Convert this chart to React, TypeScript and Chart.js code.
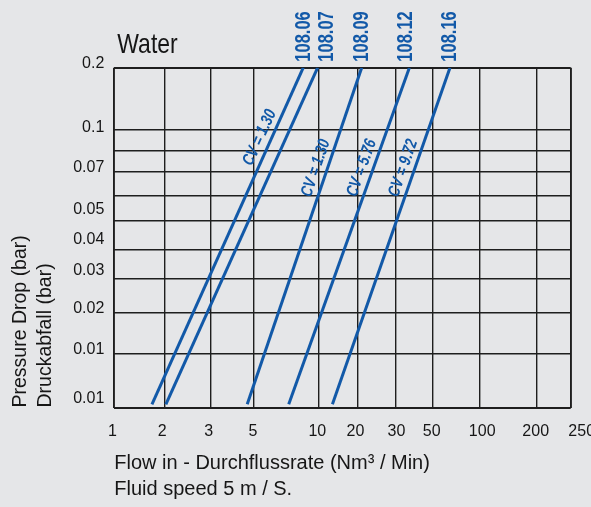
import React, { useEffect, useRef } from 'react';
import { Chart, registerables } from 'chart.js';

Chart.register(...registerables);

// ---------- data ----------
const xTickValues = [1, 2, 3, 5, 10, 20, 30, 50, 100, 200, 250];
const xTickLabels = ['1', '2', '3', '5', '10', '20', '30', '50', '100', '200', '250'];
const yGridValues = [0.005, 0.01, 0.02, 0.03, 0.04, 0.05, 0.06, 0.07, 0.08, 0.1, 0.2];
const yTickLabels = ['0.2', '0.1', '0.07', '0.05', '0.04', '0.03', '0.02', '0.01', '0.01'];

const seriesNames = ['108.06', '108.07', '108.09', '108.12', '108.16'];
const flowAtLow = [1.75, 2.03, 4.69, 7.7, 13.6];
const flowAtHigh = [8.83, 9.95, 21.1, 37.5, 68.5];
const pressureLow = 0.0053;
const pressureHigh = 0.2;
const cvTexts = ['CV = 1.30', '', 'CV = 1.30', 'CV = 5.76', 'CV = 9.72'];
const cvPressures = [0.088, 0, 0.07, 0.07, 0.07];

// ---------- scale geometry (percent of plot) ----------
const X_GRID_POS = [0, 11.0, 21.03, 30.61, 44.7, 53.29, 61.61, 69.72, 80.06, 92.46, 100];
const X_LABEL_POS = [-0.4, 10.52, 20.68, 30.39, 44.48, 52.83, 61.83, 69.54, 80.61, 92.33, 102.41];
const Y_GRID_POS = [0, 15.83, 28.02, 37.82, 46.35, 54.97, 62.24, 69.39, 75.57, 81.87, 100];
const Y_LABEL_POS = [101.09, 82.31, 70.69, 58.12, 49.5, 40.17, 29.0, 16.92, 2.71];
const NAME_NUDGE = [1, 9, 0, -3, 0];

const BG = '#e5e6e8';
const GRID = '#1e1e1e';
const TEXT = '#161616';
const BLUE = '#1259a8';
const FONT = "'Liberation Sans', Arial, sans-serif";

function interp(v: number, vals: number[], pos: number[]): number {
  for (let i = 0; i < vals.length - 1; i++) {
    if (v <= vals[i + 1] || i === vals.length - 2) {
      const t = (v - vals[i]) / (vals[i + 1] - vals[i]);
      return pos[i] + t * (pos[i + 1] - pos[i]);
    }
  }
  return pos[pos.length - 1];
}
const flowToPos = (f: number) => interp(f, xTickValues, X_GRID_POS);
const pressureToPos = (p: number) => interp(p, yGridValues, Y_GRID_POS);

const annotations = {
  id: 'annotations',
  afterDatasetsDraw(chart: any) {
    const { ctx, chartArea, scales } = chart;
    const xs = scales.x;
    const ys = scales.y;
    ctx.save();
    ctx.fillStyle = TEXT;
    ctx.font = `28px ${FONT}`;
    ctx.textAlign = 'left';
    ctx.textBaseline = 'alphabetic';
    ctx.save();
    ctx.translate(chartArea.left + 3, chartArea.top - 14.4);
    ctx.scale(0.82, 1);
    ctx.fillText('Water', 0, 0);
    ctx.restore();

    ctx.fillStyle = BLUE;
    ctx.font = `bold 22px ${FONT}`;
    seriesNames.forEach((name, i) => {
      const x = xs.getPixelForValue(flowToPos(flowAtHigh[i])) + NAME_NUDGE[i];
      ctx.save();
      ctx.translate(x, chartArea.top - 6);
      ctx.rotate(-Math.PI / 2);
      ctx.scale(0.75, 1);
      ctx.textAlign = 'left';
      ctx.textBaseline = 'middle';
      ctx.fillText(name, 0, 0);
      ctx.restore();
    });

    ctx.font = `italic bold 17px ${FONT}`;
    cvTexts.forEach((t, i) => {
      if (!t) return;
      const x0 = xs.getPixelForValue(flowToPos(flowAtLow[i]));
      const y0 = ys.getPixelForValue(pressureToPos(pressureLow));
      const x1 = xs.getPixelForValue(flowToPos(flowAtHigh[i]));
      const y1 = ys.getPixelForValue(pressureToPos(pressureHigh));
      const ang = Math.atan2(y1 - y0, x1 - x0);
      const py = ys.getPixelForValue(pressureToPos(cvPressures[i]));
      const px = x0 + ((py - y0) / (y1 - y0)) * (x1 - x0);
      ctx.save();
      ctx.translate(px, py);
      ctx.rotate(ang);
      ctx.translate(0, -11);
      ctx.scale(0.78, 1);
      ctx.textAlign = 'center';
      ctx.textBaseline = 'middle';
      ctx.fillText(t, 0, 0);
      ctx.restore();
    });
    ctx.restore();
  },
};

const edgeWidth = (ctx: any) => (ctx.tick && (ctx.tick.value === 0 || ctx.tick.value === 100) ? 1.9 : 1.4);

export default function App() {
  const ref = useRef<HTMLCanvasElement | null>(null);
  useEffect(() => {
    document.body.style.margin = '0';
    document.body.style.background = BG;
    if (!ref.current) return;
    const datasets = seriesNames.map((name, i) => ({
      label: name,
      data: [
        { x: flowToPos(flowAtLow[i]), y: pressureToPos(pressureLow) },
        { x: flowToPos(flowAtHigh[i]), y: pressureToPos(pressureHigh) },
      ],
      borderColor: BLUE,
      borderWidth: 3,
      pointRadius: 0,
      fill: false,
      xAxisID: 'x',
      yAxisID: 'y',
    }));
    const chart = new Chart(ref.current, {
      type: 'line',
      data: { datasets },
      plugins: [annotations],
      options: {
        animation: false,
        responsive: false,
        maintainAspectRatio: false,
        layout: { padding: { top: 67.7, right: 20.3, left: 0, bottom: 0 } },
        plugins: { legend: { display: false }, tooltip: { enabled: false }, title: { display: false } },
        scales: {
          x: {
            type: 'linear',
            position: 'bottom',
            min: 0,
            max: 100,
            afterBuildTicks: (s: any) => { s.ticks = X_GRID_POS.map((v) => ({ value: v })); },
            ticks: { display: false },
            grid: { color: GRID, lineWidth: edgeWidth, drawTicks: false },
            border: { display: false },
            afterFit: (s: any) => { s.height = 0; s.paddingLeft = 0; s.paddingRight = 0; },
          },
          xl: {
            type: 'linear',
            position: 'bottom',
            min: 0,
            max: 100,
            afterBuildTicks: (s: any) => { s.ticks = X_LABEL_POS.map((v) => ({ value: v })); },
            ticks: {
              autoSkip: false,
              maxRotation: 0,
              minRotation: 0,
              padding: 14,
              color: TEXT,
              font: { family: FONT, size: 16 },
              callback: (_v: any, i: number) => xTickLabels[i],
            },
            grid: { display: false, drawTicks: false },
            border: { display: false },
            title: {
              display: true,
              text: ['Flow in - Durchflussrate (Nm³ / Min)', 'Fluid speed 5 m / S.'],
              align: 'start',
              color: TEXT,
              font: { family: FONT, size: 20, lineHeight: '26px' },
              padding: { top: 0, bottom: 5 },
            },
            afterFit: (s: any) => { s.height = 99.5; s.paddingLeft = 0; s.paddingRight = 0; },
          },
          y: {
            type: 'linear',
            position: 'left',
            min: 0,
            max: 100,
            afterBuildTicks: (s: any) => { s.ticks = Y_GRID_POS.map((v) => ({ value: v })); },
            ticks: { display: false },
            grid: { color: GRID, lineWidth: edgeWidth, drawTicks: false },
            border: { display: false },
            afterFit: (s: any) => { s.width = 0; s.paddingTop = 0; s.paddingBottom = 0; },
          },
          yl: {
            type: 'linear',
            position: 'left',
            min: 0,
            max: 100,
            afterBuildTicks: (s: any) => { s.ticks = Y_LABEL_POS.map((v) => ({ value: v })); },
            ticks: {
              autoSkip: false,
              padding: 10,
              color: TEXT,
              font: { family: FONT, size: 16 },
              callback: (_v: any, i: number) => yTickLabels[i],
            },
            grid: { display: false, drawTicks: false },
            border: { display: false },
            title: {
              display: true,
              text: ['Pressure Drop (bar)', 'Druckabfall (bar)'],
              align: 'start',
              color: TEXT,
              font: { family: FONT, size: 19.5, lineHeight: '25px' },
              padding: { top: 8, bottom: 0 },
            },
            afterFit: (s: any) => { s.width = 114.3; s.paddingTop = 0; s.paddingBottom = 0; },
          },
        },
      } as any,
    });
    return () => chart.destroy();
  }, []);
  return (
    <div style={{ width: 591, height: 507, background: BG }}>
      <canvas ref={ref} width={591} height={507} style={{ width: 591, height: 507, display: 'block' }} />
    </div>
  );
}
